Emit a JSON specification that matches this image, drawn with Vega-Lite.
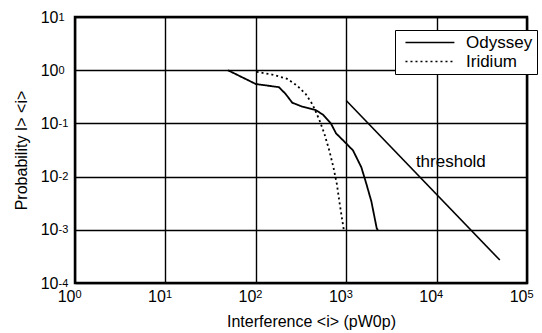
{
  "$schema": "https://vega.github.io/schema/vega-lite/v6.json",
  "width": 452,
  "height": 266,
  "autosize": {"type": "none"},
  "padding": {"left": 75, "top": 17, "right": 15, "bottom": 50},
  "background": "white",
  "config": {
    "view": {"stroke": "black", "strokeWidth": 2.5},
    "font": "Liberation Sans",
    "axis": {"labelFont": "Liberation Sans", "titleFont": "Liberation Sans", "labelColor": "black", "titleColor": "black", "titleFontWeight": "normal", "labelFontSize": 16, "titleFontSize": 16, "labelOverlap": false, "labelFlush": false, "labelBound": false}
  },
  "datasets": {
    "curves": [
      {"series": "Odyssey", "x": 49, "p": 1},
      {"series": "Odyssey", "x": 100, "p": 0.55},
      {"series": "Odyssey", "x": 180, "p": 0.48},
      {"series": "Odyssey", "x": 213, "p": 0.36},
      {"series": "Odyssey", "x": 253, "p": 0.245},
      {"series": "Odyssey", "x": 327, "p": 0.206},
      {"series": "Odyssey", "x": 460, "p": 0.178},
      {"series": "Odyssey", "x": 550, "p": 0.147},
      {"series": "Odyssey", "x": 677, "p": 0.1},
      {"series": "Odyssey", "x": 772, "p": 0.065},
      {"series": "Odyssey", "x": 1000, "p": 0.042},
      {"series": "Odyssey", "x": 1190, "p": 0.031},
      {"series": "Odyssey", "x": 1470, "p": 0.015},
      {"series": "Odyssey", "x": 1660, "p": 0.0076},
      {"series": "Odyssey", "x": 1900, "p": 0.0034},
      {"series": "Odyssey", "x": 2180, "p": 0.00105},
      {"series": "Odyssey", "x": 2260, "p": 0.001},
      {"series": "Iridium", "x": 102, "p": 0.93},
      {"series": "Iridium", "x": 151, "p": 0.83},
      {"series": "Iridium", "x": 222, "p": 0.69},
      {"series": "Iridium", "x": 287, "p": 0.51},
      {"series": "Iridium", "x": 357, "p": 0.355},
      {"series": "Iridium", "x": 423, "p": 0.229},
      {"series": "Iridium", "x": 503, "p": 0.118},
      {"series": "Iridium", "x": 572, "p": 0.065},
      {"series": "Iridium", "x": 650, "p": 0.031},
      {"series": "Iridium", "x": 722, "p": 0.015},
      {"series": "Iridium", "x": 790, "p": 0.0071},
      {"series": "Iridium", "x": 840, "p": 0.0034},
      {"series": "Iridium", "x": 900, "p": 0.0016},
      {"series": "Iridium", "x": 940, "p": 0.001}
    ],
    "threshold": [
      {"x": 1000, "p": 0.27},
      {"x": 50000, "p": 0.00027}
    ],
    "labels": [
      {"x": 5900, "p": 0.0188, "text": "threshold"}
    ]
  },
  "resolve": {
    "scale": {"x": "independent", "y": "independent"},
    "axis": {"x": "independent", "y": "independent"}
  },
  "layer": [
    {
      "data": {"name": "curves"},
      "transform": [{"filter": "datum.series === 'Odyssey'"}],
      "mark": {"type": "line", "color": "black", "strokeWidth": 1.8},
      "encoding": {
        "x": {
          "field": "x", "type": "quantitative",
          "scale": {"type": "log", "domain": [1, 100000], "nice": false},
          "axis": {
            "orient": "bottom",
            "title": "Interference <i> (pW0p)",
            "titleX": 236, "titlePadding": 9,
            "domain": false, "ticks": false, "tickSize": 0,
            "values": [1,10,100,1000,10000,100000],
            "labelExpr": "'10'",
            "labelAlign": "right", "labelDx": 5,
            "labelPadding": 5,
            "grid": true, "gridColor": "black", "gridWidth": 1.4, "gridOpacity": 1
          }
        },
        "y": {
          "field": "p", "type": "quantitative",
          "scale": {"type": "log", "domain": [0.0001, 10], "nice": false},
          "axis": {
            "orient": "left",
            "title": "Probability I> <i>",
            "titlePadding": 11,
            "domain": false, "ticks": false, "tickSize": 0,
            "values": [0.0001,0.001,0.01,0.1,1,10],
            "labelExpr": "'10'",
            "labelPadding": 17,
            "grid": true, "gridColor": "black", "gridWidth": 1.4, "gridOpacity": 1
          }
        },
        "strokeDash": {
          "field": "series", "type": "nominal",
          "scale": {"domain": ["Odyssey", "Iridium"], "range": [[1, 0], [2, 3]]},
          "legend": {
            "orient": "none", "legendX": 320, "legendY": 13,
            "title": null,
            "strokeColor": "black", "fillColor": "white",
            "padding": 4,
            "labelFont": "Liberation Sans", "labelFontSize": 17, "labelColor": "black",
            "labelExpr": "datum.label + '\u00a0\u00a0'",
            "symbolType": "M -0.29 0 H 6.7",
            "symbolSize": 196, "symbolStrokeWidth": 1.6, "symbolStrokeColor": "black",
            "rowPadding": 1, "labelOffset": 50, "zindex": 2
          }
        }
      }
    },
    {
      "data": {"name": "curves"},
      "transform": [{"filter": "datum.series === 'Iridium'"}],
      "mark": {"type": "line", "color": "black", "strokeWidth": 1.8},
      "encoding": {
        "x": {
          "field": "x", "type": "quantitative",
          "scale": {"type": "log", "domain": [1, 100000], "nice": false},
          "axis": {
            "orient": "bottom", "title": null, "grid": false, "domain": false,
            "ticks": false, "tickSize": 0,
            "values": [1,10,100,1000,10000,100000],
            "labelExpr": "'' + round(log(datum.value)/LN10)",
            "labelFontSize": 11, "labelAlign": "left", "labelDx": 5, "labelDy": -6,
            "labelPadding": 5
          }
        },
        "y": {
          "field": "p", "type": "quantitative",
          "scale": {"type": "log", "domain": [0.0001, 10], "nice": false},
          "axis": {
            "orient": "left", "title": null, "grid": false, "domain": false,
            "ticks": false, "tickSize": 0,
            "values": [0.0001,0.001,0.01,0.1,1,10],
            "labelExpr": "'' + round(log(datum.value)/LN10)",
            "labelFontSize": 11, "labelAlign": "left", "labelDy": -6,
            "labelPadding": 17
          }
        },
        "strokeDash": {
          "field": "series", "type": "nominal",
          "scale": {"domain": ["Odyssey", "Iridium"], "range": [[1, 0], [2, 3]]}
        }
      }
    },
    {
      "data": {"name": "threshold"},
      "mark": {"type": "line", "color": "black", "strokeWidth": 1.6},
      "encoding": {
        "x": {"field": "x", "type": "quantitative", "scale": {"type": "log", "domain": [1, 100000], "nice": false}, "axis": null},
        "y": {"field": "p", "type": "quantitative", "scale": {"type": "log", "domain": [0.0001, 10], "nice": false}, "axis": null}
      }
    },
    {
      "data": {"name": "labels"},
      "mark": {"type": "text", "align": "left", "baseline": "middle", "font": "Liberation Sans", "fontSize": 17, "color": "black"},
      "encoding": {
        "x": {"field": "x", "type": "quantitative", "scale": {"type": "log", "domain": [1, 100000], "nice": false}, "axis": null},
        "y": {"field": "p", "type": "quantitative", "scale": {"type": "log", "domain": [0.0001, 10], "nice": false}, "axis": null},
        "text": {"field": "text"}
      }
    }
  ]
}
